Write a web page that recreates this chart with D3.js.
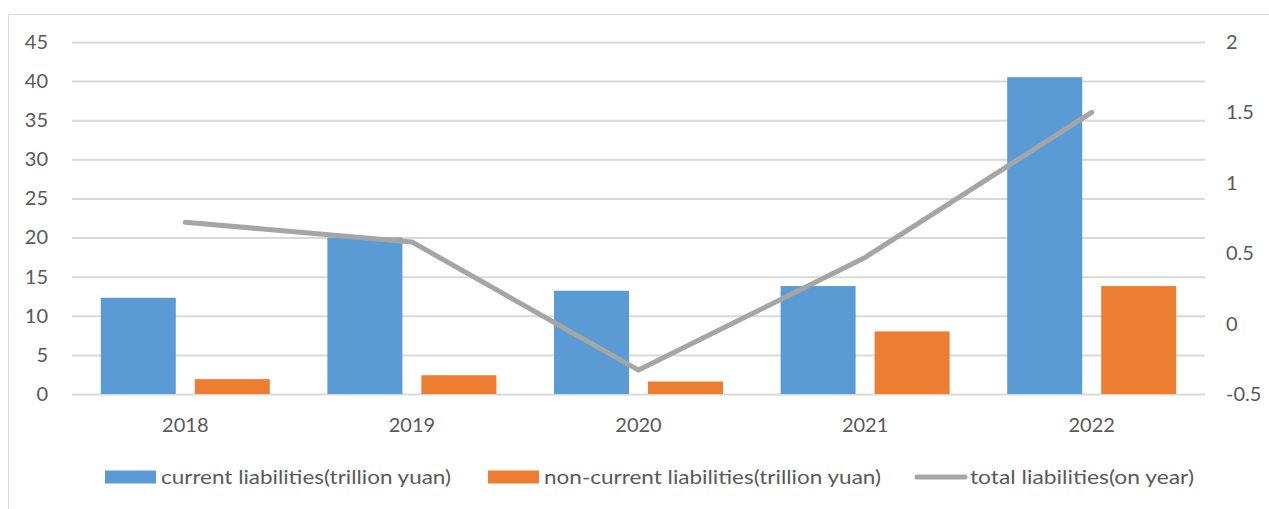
<!DOCTYPE html>
<html>
<head>
<meta charset="utf-8">
<script src="https://cdn.jsdelivr.net/npm/d3@7"></script>
<style>
  html, body { margin: 0; padding: 0; background: #fff; }
  svg text { font-family: Lato, "Open Sans", sans-serif; fill: #595959; }
</style>
</head>
<body>
<svg id="chart" width="1269" height="509"></svg>
<script>
"use strict";

var years = ["2018", "2019", "2020", "2021", "2022"];
var currentLiabilities = [12.3, 20.0, 13.2, 13.8, 40.5];
var nonCurrentLiabilities = [1.9, 2.4, 1.6, 8.0, 13.8];
var totalOnYear = [0.72, 0.58, -0.33, 0.47, 1.5];
var leftTicks = [0, 5, 10, 15, 20, 25, 30, 35, 40, 45];
var rightTicks = [-0.5, 0, 0.5, 1, 1.5, 2];
var legendLabels = [
  "current liabilities(trillion yuan)",
  "non-current liabilities(trillion yuan)",
  "total liabilities(on year)"
];

var BLUE = "#5b9bd5", ORANGE = "#ed7d31", GREY = "#a5a5a5";
var plot = { left: 72, right: 1205, top: 42, bottom: 394 };

var svg = d3.select("#chart");

// outer chart frame (only left/top edges show in the picture)
svg.append("path")
  .attr("d", "M8.5,509 V14.5 H1269")
  .attr("fill", "none")
  .attr("stroke", "#d9d9d9")
  .attr("stroke-width", 1);

var x = d3.scaleBand().domain(years).range([plot.left, plot.right]);
var yLeft = d3.scaleLinear().domain([0, 45]).range([plot.bottom, plot.top]);
var yRight = d3.scaleLinear().domain([-0.5, 2]).range([plot.bottom, plot.top]);

// gridlines
var grid = svg.append("g")
  .attr("transform", "translate(" + plot.left + ",0)")
  .call(d3.axisLeft(yLeft).tickValues(leftTicks).tickSize(-(plot.right - plot.left)).tickFormat(""));
grid.select(".domain").remove();
grid.selectAll("line").attr("stroke", "#d9d9d9").attr("stroke-width", 2);

// left axis labels
var leftAxis = svg.append("g")
  .attr("transform", "translate(" + (plot.left - 24) + ",0)")
  .call(d3.axisLeft(yLeft).tickValues(leftTicks).tickSize(0).tickPadding(0));
leftAxis.select(".domain").remove();
leftAxis.selectAll("text").style("font-size", "20px").attr("fill", "#595959");

// right axis labels (plain hyphen for negatives, like the source)
var rightAxis = svg.append("g")
  .attr("transform", "translate(" + (plot.right + 21) + ",0)")
  .call(d3.axisRight(yRight).tickValues(rightTicks).tickSize(0).tickPadding(0)
    .tickFormat(function (d) { return String(d); }));
rightAxis.select(".domain").remove();
rightAxis.selectAll("text").style("font-size", "20px").attr("fill", "#595959");

// category axis labels
var xAxis = svg.append("g")
  .attr("transform", "translate(0," + plot.bottom + ")")
  .call(d3.axisBottom(x).tickSize(0).tickPadding(24));
xAxis.select(".domain").remove();
xAxis.selectAll("text").style("font-size", "20px").attr("fill", "#595959");

// bars: two series inside each category band
var BAR_WIDTH = 75, BAR_GAP = 19;
var seriesBars = [
  { values: currentLiabilities, color: BLUE, offset: -(BAR_WIDTH + BAR_GAP / 2) },
  { values: nonCurrentLiabilities, color: ORANGE, offset: BAR_GAP / 2 }
];

seriesBars.forEach(function (s) {
  svg.append("g")
    .selectAll("rect")
    .data(s.values)
    .enter()
    .append("rect")
    .attr("x", function (d, i) { return x(years[i]) + x.bandwidth() / 2 + s.offset; })
    .attr("y", function (d) { return yLeft(d); })
    .attr("width", BAR_WIDTH)
    .attr("height", function (d) { return yLeft(0) - yLeft(d); })
    .attr("fill", s.color);
});

// line on the secondary axis
var line = d3.line()
  .x(function (d, i) { return x(years[i]) + x.bandwidth() / 2; })
  .y(function (d) { return yRight(d); });

svg.append("path")
  .datum(totalOnYear)
  .attr("d", line)
  .attr("fill", "none")
  .attr("stroke", GREY)
  .attr("stroke-width", 5)
  .attr("stroke-linecap", "round")
  .attr("stroke-linejoin", "round");

// legend
var legendItems = [
  { label: legendLabels[0], color: BLUE, type: "rect", x: 105, textLen: 290 },
  { label: legendLabels[1], color: ORANGE, type: "rect", x: 488, textLen: 337 },
  { label: legendLabels[2], color: GREY, type: "line", x: 914, textLen: 224 }
];
var legendY = 477;

var legend = svg.append("g");
legendItems.forEach(function (item) {
  var g = legend.append("g").attr("transform", "translate(" + item.x + "," + legendY + ")");
  if (item.type === "rect") {
    g.append("rect").attr("x", 0).attr("y", -6.5).attr("width", 51).attr("height", 13).attr("fill", item.color);
  } else {
    g.append("line").attr("x1", 3).attr("x2", 51).attr("y1", 0).attr("y2", 0)
      .attr("stroke", item.color).attr("stroke-width", 5).attr("stroke-linecap", "round");
  }
  g.append("text")
    .attr("x", 56)
    .attr("y", 7)
    .attr("textLength", item.textLen)
    .attr("lengthAdjust", "spacingAndGlyphs")
    .style("font-size", "20px")
    .text(item.label);
});
</script>
</body>
</html>
